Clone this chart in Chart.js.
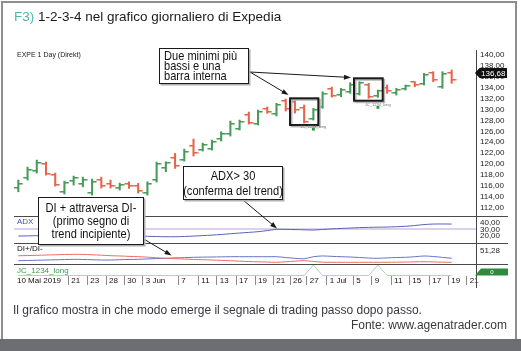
<!DOCTYPE html>
<html lang="it">
<head>
<meta charset="UTF-8">
<title>1-2-3-4 nel grafico giornaliero di Expedia</title>
<script src="https://cdn.jsdelivr.net/npm/chart.js"></script>
<style>
  body { margin: 0; background: #fff; font-family: "Liberation Sans", Arial, sans-serif; }
  #card { position: relative; width: 521px; height: 351px; overflow: hidden; background: #fff; }
  #frame { position: absolute; left: 1px; top: 1px; width: 516px; height: 338px; border: 2px solid #8e8e8e; border-bottom: none; box-sizing: border-box; }
  #band { position: absolute; left: 0; top: 339px; width: 521px; height: 12px; background: #6d6e71; }
  canvas { position: absolute; left: 0; top: 0; }
  .t { position: absolute; white-space: nowrap; }
  .callout { position: absolute; box-sizing: border-box; background: #fff; border: 1.5px solid #1a1a1a;
             box-shadow: 1.5px 1.5px 0 #b0b0b0; color: #111; }
  /* condensed lettering: regular sans squeezed horizontally */
  .ct { position: absolute; white-space: nowrap; font-family: "Liberation Sans", Arial, sans-serif; }
  .ct.left { transform-origin: 0 0; transform: scaleX(0.82); text-align: left; }
  .ct.mid { left: 50%; transform: translateX(-50%) scaleX(0.82); text-align: center; }
</style>
</head>
<body>
<div id="card">
  <div id="frame"></div>
  <div id="band"></div>
  <canvas id="chart" width="521" height="351"></canvas>

  <div class="t" style="left:14px; top:9px; font-size:13.5px; line-height:16px; color:#1a1a1a;"><span style="color:#4fb8ae;">F3)</span> 1-2-3-4 nel grafico giornaliero di Expedia</div>
  <div class="t" style="left:17px; top:51px; font-size:7px; line-height:8px; color:#222;">EXPE 1 Day (Direkt)</div>
  <div class="t" style="left:17px; top:217px; font-size:8px; line-height:9px; color:#4352a8;">ADX</div>
  <div class="t" style="left:17px; top:244px; font-size:8px; line-height:9px; color:#111;">DI+/DI-</div>
  <div class="t" style="left:17px; top:266px; font-size:8px; line-height:9px; color:#3d9a4c;">JC_1234_long</div>

  <div class="callout" style="left:159px; top:48px; width:90px; height:36px;">
    <div class="ct left" style="left:4px; top:2px; font-size:13.5px; line-height:10px;">Due minimi più<br>bassi e una<br>barra interna</div>
  </div>
  <div class="callout" style="left:183px; top:166px; width:100px; height:34px;">
    <div class="ct mid" style="top:2px; font-size:13.5px; line-height:14.5px;">ADX&gt; 30<br>(conferma del trend)</div>
  </div>
  <div class="callout" style="left:38px; top:197px; width:106px; height:48px;">
    <div class="ct mid" style="top:3px; font-size:13.5px; line-height:13px;">DI + attraversa DI-<br>(primo segno di<br>trend incipiente)</div>
  </div>

  <div class="t" style="left:13px; top:303px; font-size:12px; line-height:14px; color:#3a3640;">Il grafico mostra in che modo emerge il segnale di trading passo dopo passo.</div>
  <div class="t" style="right:14px; top:318px; font-size:12px; line-height:14px; color:#3a3a3a;">Fonte: www.agenatrader.com</div>
</div>

<script>
  // x axis: tick positions (in bar index units) and their labels
  const xTickPos = [-0.47, 5.42, 7.48, 9.51, 11.5, 13.49, 17.35, 19.52, 21.52, 23.61, 25.67,
                    27.66, 29.47, 31.28, 33.45, 36.33, 38.33, 40.43, 42.41, 44.58, 46.64, 48.63];
  const xTickLabels = ['10 Mai 2019', '21', '23', '28', '30', '3 Jun', '7', '11', '13', '17', '19',
                       '21', '26', '27', '1 Jul', '5', '9', '11', '15', '17', '19', '21'];

  // daily OHLC bars
  const opens = [115.6, 117.43, 118.72, 120.0, 117.98, 114.86, 116.88, 116.33, 114.68, 117.06, 116.33, 115.6,
                 116.33, 115.96, 114.68, 117.06, 119.27, 121.1, 120.73, 123.3, 122.57, 122.75, 124.59, 125.5,
                 126.42, 128.99, 127.34, 130.09, 129.17, 131.56, 131.38, 130.28, 128.26, 130.46, 133.76, 132.66,
                 133.21, 132.84, 134.5, 132.48, 133.94, 133.03, 133.76, 135.05, 134.68, 136.7, 134.13, 136.7];
  const highs = [117.06, 119.45, 120.73, 120.37, 118.35, 116.88, 117.8, 117.61, 117.25, 117.61, 117.06, 116.51,
                 116.75, 116.46, 116.75, 120.37, 120.42, 121.96, 122.75, 124.59, 123.85, 124.4, 125.93, 127.89,
                 128.07, 129.54, 129.91, 130.46, 131.14, 131.93, 131.93, 130.83, 130.22, 133.27, 134.13, 133.89,
                 134.92, 135.1, 134.81, 133.58, 134.5, 133.89, 134.5, 135.1, 136.64, 136.94, 136.94, 137.25];
  const lows = [114.92, 117.06, 118.35, 117.98, 115.96, 114.5, 116.15, 115.83, 114.31, 115.6, 115.6, 115.23,
                115.54, 114.68, 114.31, 116.7, 118.59, 119.21, 120.55, 121.47, 122.39, 122.57, 124.22, 125.14,
                126.24, 127.34, 127.16, 129.3, 128.81, 129.72, 129.36, 127.52, 128.07, 130.22, 132.29, 132.35,
                132.97, 132.66, 132.06, 132.24, 132.97, 132.66, 133.58, 134.18, 134.5, 135.1, 133.89, 134.81];
  const closes = [116.33, 118.9, 120.18, 118.17, 116.15, 116.51, 117.43, 117.06, 116.7, 115.96, 115.96, 116.15,
                  115.96, 115.05, 116.33, 120.0, 120.18, 119.63, 122.2, 122.02, 123.49, 124.04, 125.5, 127.34,
                  127.71, 127.52, 129.54, 129.54, 130.83, 130.09, 129.91, 127.71, 129.91, 132.84, 132.48, 133.58,
                  134.5, 134.86, 132.29, 133.39, 133.39, 133.58, 134.31, 134.5, 136.33, 135.41, 136.51, 135.41];
  const lastPrice = 136.68;
  const priceTicks = [140, 138, 136, 134, 132, 130, 128, 126, 124, 122, 120, 118, 116, 114, 112];

  // ADX panel
  const adx = [20.0, 20.2, 20.5, 20.8, 20.8, 20.6, 20.5, 20.4, 20.3, 20.2, 20.1, 20.0,
               19.9, 19.8, 19.6, 19.2, 18.9, 18.9, 19.3, 19.9, 20.6, 21.4, 22.3, 23.4,
               24.5, 25.5, 26.5, 28.2, 30.0, 29.9, 29.7, 29.3, 29.0, 29.8, 30.7, 31.4,
               32.0, 32.6, 33.0, 33.3, 33.5, 34.0, 34.6, 35.8, 37.2, 38.0, 38.1, 38.0];
  const adxTicks = [40, 30, 20];
  const adxLevel = 30;

  // DI+/DI- panel
  const diPlus = [12.7, 13.5, 14.5, 15.4, 16.2, 17, 18.1, 17.5, 16.5, 15.4, 15.4, 16.5,
                  17.5, 18.1, 19.5, 20.8, 22, 23.5, 24.5, 25.8, 26.5, 27, 27.5, 28.2,
                  28.2, 28.2, 28.2, 28.2, 28.2, 25, 22, 20, 28, 31, 29.5, 28.2,
                  27, 25, 23, 22, 23.5, 25, 25.8, 28, 30.9, 29, 25.5, 22];
  const diMinus = [32, 32.5, 33.5, 34.7, 35.5, 36.5, 37.4, 37, 35.5, 34, 32, 31,
                   29.5, 28.2, 26.5, 24, 22, 20.5, 19, 17.5, 16.5, 15.4, 14, 12.5,
                   11, 9.5, 8.5, 7.5, 6.6, 8.5, 11, 12.7, 10, 7, 6.6, 6.6,
                   6.6, 6.6, 6.6, 6.6, 6.8, 7, 7.5, 8.2, 8.9, 8, 7, 6.6];
  const diTicks = [51.28];

  // JC_1234_long signal panel
  const jcSignal = [0, 0, 0, 0, 0, 0, 0, 0, 0, 0, 0, 0, 0, 0, 0, 0, 0, 0, 0, 0, 0, 0, 0, 0,
                    0, 0, 0, 0, 0, 0, 0, 0, 1, 0, 0, 0, 0, 0, 0, 1, 0, 0, 0, 0, 0, 0, 0, 0];
  const jcLast = 0;
  const signalIdx = [32, 39];
  const signalPrice = [126.4, 130.4];

  // highlighted setups (bar index range, price range)
  const hlBoxes = [
    { x0: 29.47, x1: 32.54, top: 132.06, bottom: 127.17 },
    { x0: 36.41, x1: 39.52, top: 135.73, bottom: 131.62 }
  ];
  // callout arrows: tail in page pixels, tip in data units of the given axis
  const arrows = [
    { tail: [250, 72], x: 29.31, y: 132.67, axis: 'y' },
    { tail: [250, 72], x: 36.08, y: 135.87, axis: 'y' },
    { tail: [243, 200], x: 28.06, y: 31.3, axis: 'yAdx' },
    { tail: [144.5, 239.5], x: 16.62, y: 32.8, axis: 'yDi' }
  ];

  const GREEN = '#479a58';
  const RED = '#e6654a';
  const idx = opens.map((_, i) => i);
  const up = i => closes[i] >= opens[i];

  function tickImg(color, side) {
    const c = document.createElement('canvas');
    c.width = 10; c.height = 2;
    const g = c.getContext('2d');
    g.fillStyle = color;
    g.fillRect(side === 'left' ? 0.5 : 5, 0, 4.5, 1.5);
    return c;
  }
  const openUp = tickImg(GREEN, 'left'), openDn = tickImg(RED, 'left');
  const closeUp = tickImg(GREEN, 'right'), closeDn = tickImg(RED, 'right');

  const comma = v => v.toFixed(2).replace('.', ',');

  function arrow(ctx, x0, y0, x1, y1) {
    const a = Math.atan2(y1 - y0, x1 - x0), c = Math.cos(a), s = Math.sin(a);
    ctx.beginPath(); ctx.moveTo(x0, y0); ctx.lineTo(x1 - 5 * c, y1 - 5 * s); ctx.stroke();
    ctx.beginPath(); ctx.moveTo(x1, y1);
    ctx.lineTo(x1 - 7 * c + 2.5 * s, y1 - 7 * s - 2.5 * c);
    ctx.lineTo(x1 - 7 * c - 2.5 * s, y1 - 7 * s + 2.5 * c);
    ctx.closePath(); ctx.fill();
  }

  const overlay = {
    id: 'overlay',
    afterDatasetsDraw(chart) {
      const { ctx, chartArea, scales } = chart;
      const xs = scales.x, ys = scales.y;
      ctx.save();

      // panel separators
      ctx.strokeStyle = '#4a4a4a'; ctx.lineWidth = 1;
      ['y', 'yAdx', 'yDi'].forEach(id => {
        const b = Math.round(scales[id].bottom) + 0.5;
        ctx.beginPath(); ctx.moveTo(chartArea.left, b); ctx.lineTo(508, b); ctx.stroke();
      });
      ctx.beginPath(); ctx.moveTo(chartArea.right + 0.5, chartArea.bottom); ctx.lineTo(chartArea.right + 0.5, 288); ctx.stroke();

      // setup boxes
      hlBoxes.forEach(b => {
        const x0 = xs.getPixelForValue(b.x0), x1 = xs.getPixelForValue(b.x1);
        const y0 = ys.getPixelForValue(b.top), y1 = ys.getPixelForValue(b.bottom);
        ctx.lineWidth = 2;
        ctx.strokeStyle = '#b8b8b8';
        ctx.strokeRect(x0 + 1.5, y0 + 1.5, x1 - x0, y1 - y0);
        ctx.strokeStyle = '#1a1a1a';
        ctx.strokeRect(x0, y0, x1 - x0, y1 - y0);
      });

      // signal captions
      ctx.font = '4px "Liberation Sans", Arial';
      ctx.fillStyle = '#777'; ctx.textAlign = 'center'; ctx.textBaseline = 'middle';
      signalIdx.forEach((v, k) => ctx.fillText('JC_1234_long', xs.getPixelForValue(v), ys.getPixelForValue(signalPrice[k]) - 2.5));

      // callout arrows
      ctx.strokeStyle = '#1a1a1a'; ctx.fillStyle = '#1a1a1a'; ctx.lineWidth = 1;
      arrows.forEach(a => arrow(ctx, a.tail[0], a.tail[1], xs.getPixelForValue(a.x), scales[a.axis].getPixelForValue(a.y)));

      // last price tag
      const L = chartArea.right - 1;
      const yp = ys.getPixelForValue(lastPrice);
      ctx.fillStyle = '#111';
      ctx.beginPath();
      ctx.moveTo(L, yp); ctx.lineTo(L + 4.5, yp - 5); ctx.lineTo(507, yp - 5);
      ctx.lineTo(507, yp + 5); ctx.lineTo(L + 4.5, yp + 5); ctx.closePath(); ctx.fill();
      ctx.fillStyle = '#fff'; ctx.font = '8px "Liberation Sans", Arial'; ctx.textAlign = 'left';
      ctx.fillText(comma(lastPrice), L + 6, yp + 0.5);

      // JC value tag
      const jy = Math.min(scales.yJc.getPixelForValue(jcLast), scales.yJc.bottom - 4);
      ctx.fillStyle = '#2e8b3e';
      ctx.beginPath();
      ctx.moveTo(L, jy + 3.5); ctx.lineTo(L + 6, jy - 3.5); ctx.lineTo(508, jy - 3.5); ctx.lineTo(508, jy + 3.5);
      ctx.closePath(); ctx.fill();
      ctx.fillStyle = '#fff'; ctx.font = '6px "Liberation Sans", Arial'; ctx.textAlign = 'center';
      ctx.fillText(String(jcLast), 492, jy);

      ctx.restore();
    }
  };

  Chart.defaults.font.family = '"Liberation Sans", Arial, sans-serif';
  Chart.defaults.font.size = 8;
  Chart.defaults.color = '#222';

  const setTicks = arr => scale => { scale.ticks = arr.map(v => ({ value: v })); };
  const rightAxis = (extra) => Object.assign({
    type: 'linear', position: 'right', stack: 'panels',
    afterFit: s => { s.width = 40; },
    border: { display: true, color: '#444', width: 1 },
    grid: { drawOnChartArea: false, drawTicks: false },
    ticks: { padding: 4, autoSkip: false, color: '#222', callback: v => comma(v) }
  }, extra);

  new Chart(document.getElementById('chart'), {
    data: {
      datasets: [
        {
          type: 'bar', yAxisID: 'y',
          data: idx.map(i => ({ x: i, y: [lows[i], highs[i]] })),
          backgroundColor: idx.map(i => up(i) ? GREEN : RED),
          barThickness: 1.4, borderWidth: 0
        },
        {
          type: 'line', yAxisID: 'y', showLine: false,
          data: idx.map(i => ({ x: i, y: opens[i] })),
          pointStyle: ctx => up(ctx.dataIndex) ? openUp : openDn, pointRadius: 3
        },
        {
          type: 'line', yAxisID: 'y', showLine: false,
          data: idx.map(i => ({ x: i, y: closes[i] })),
          pointStyle: ctx => up(ctx.dataIndex) ? closeUp : closeDn, pointRadius: 3
        },
        {
          type: 'line', yAxisID: 'y', showLine: false,
          data: signalIdx.map((v, k) => ({ x: v, y: signalPrice[k] })),
          pointStyle: 'rect', pointRadius: 2, backgroundColor: '#2a9a3a', borderWidth: 0
        },
        {
          type: 'line', yAxisID: 'yAdx',
          data: idx.map(i => ({ x: i, y: adx[i] })),
          borderColor: '#5563b3', borderWidth: 1, pointRadius: 0, tension: 0.3
        },
        {
          type: 'line', yAxisID: 'yDi',
          data: idx.map(i => ({ x: i, y: diMinus[i] })),
          borderColor: '#f06a66', borderWidth: 1, pointRadius: 0, tension: 0.3
        },
        {
          type: 'line', yAxisID: 'yDi',
          data: idx.map(i => ({ x: i, y: diPlus[i] })),
          borderColor: '#6674c4', borderWidth: 1, pointRadius: 0, tension: 0.3
        },
        {
          type: 'line', yAxisID: 'yJc',
          data: idx.map(i => ({ x: i, y: jcSignal[i] })),
          borderColor: '#a8d8a8', borderWidth: 1, pointRadius: 0, tension: 0
        }
      ]
    },
    options: {
      responsive: false,
      animation: false,
      events: [],
      layout: { padding: { left: 14, top: 50, right: 5, bottom: 63 } },
      plugins: { legend: { display: false }, tooltip: { enabled: false } },
      scales: {
        x: {
          type: 'linear', min: -0.47, max: 49.64, offset: false,
          afterBuildTicks: setTicks(xTickPos),
          afterFit: s => { s.height = 12; },
          border: { display: false },
          grid: { offset: false, drawOnChartArea: false, drawTicks: true, tickLength: 9,
                  color: c => c.index === 0 ? 'rgba(0,0,0,0)' : '#8a8a8a' },
          ticks: { autoSkip: false, maxRotation: 0, minRotation: 0, align: 'start', labelOffset: 3,
                   padding: -9, color: '#111', callback: (v, i) => xTickLabels[i] }
        },
        y: rightAxis({ stackWeight: 166, min: 110.48, max: 140.92, afterBuildTicks: setTicks(priceTicks) }),
        yAdx: rightAxis({
          stackWeight: 27, min: 9.5, max: 50.1, afterBuildTicks: setTicks(adxTicks),
          grid: { drawOnChartArea: true, drawTicks: false, lineWidth: 2,
                  color: c => c.tick && c.tick.value === adxLevel ? '#ddd0ee' : 'rgba(0,0,0,0)' }
        }),
        yDi: rightAxis({ stackWeight: 21, min: 0, max: 81, afterBuildTicks: setTicks(diTicks) }),
        yJc: rightAxis({ stackWeight: 12, min: -0.05, max: 1.1, afterBuildTicks: setTicks([]),
                         ticks: { display: false } })
      }
    },
    plugins: [overlay]
  });
</script>
</body>
</html>
